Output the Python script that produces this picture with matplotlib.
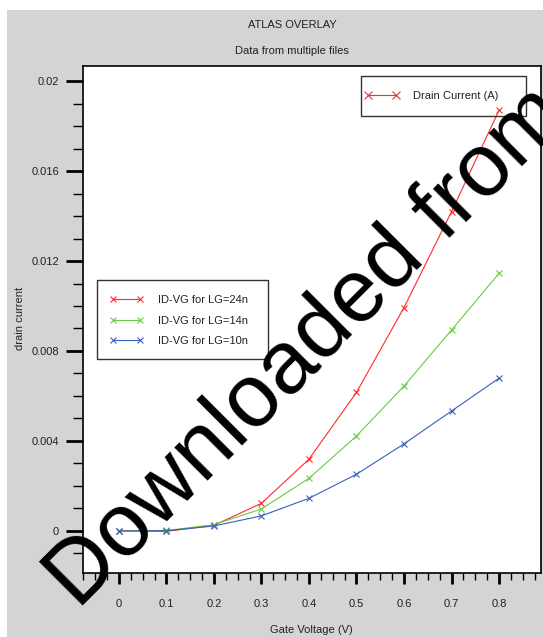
import numpy as np
import matplotlib
matplotlib.use('Agg')
import matplotlib.pyplot as plt
from matplotlib.lines import Line2D
from matplotlib.patches import Rectangle
from matplotlib.ticker import MultipleLocator

plt.rcParams['font.family'] = ['Liberation Sans', 'DejaVu Sans']

# gate voltage sweep and drain current for the three gate lengths
vg = [0.0, 0.1, 0.2, 0.3, 0.4, 0.5, 0.6, 0.7, 0.8]
id_lg24 = [0.0, -0.00002, 0.00025, 0.00123, 0.00319, 0.00616, 0.00993, 0.01419, 0.01870]
id_lg14 = [0.0, 0.00002, 0.00028, 0.00098, 0.00234, 0.00422, 0.00644, 0.00893, 0.01145]
id_lg10 = [0.0, 0.00001, 0.00022, 0.00067, 0.00145, 0.00252, 0.00387, 0.00533, 0.00679]
labels = ['ID-VG for LG=24n', 'ID-VG for LG=14n', 'ID-VG for LG=10n']
colors = ['#ff2a2a', '#66cc44', '#3a5fc0']

W, H = 543, 637
fig = plt.figure(figsize=(W / 100, H / 100), dpi=100, facecolor='white')

def fx(px):
    return px / W

def fy(py):
    return 1 - py / H

# grey panel behind the plot
fig.patches.append(Rectangle((fx(7), 0), 1 - fx(7), fy(10), transform=fig.transFigure,
                             facecolor='#d4d4d4', edgecolor='none', zorder=-10))

ax = fig.add_axes([fx(82.5), fy(573), fx(541) - fx(82.5), fy(66) - fy(573)])
ax.set_facecolor('white')

for y, lab, c in zip([id_lg24, id_lg14, id_lg10], labels, colors):
    ax.plot(vg, y, color=c, lw=0.8, marker='x', ms=5, mew=0.8, label=lab)

ax.set_xlim(-0.0768, 0.8884)
ax.set_ylim(-0.00187, 0.02067)

ax.xaxis.set_major_locator(MultipleLocator(0.1))
ax.xaxis.set_minor_locator(MultipleLocator(0.025))
ax.yaxis.set_major_locator(MultipleLocator(0.004))
ax.yaxis.set_minor_locator(MultipleLocator(0.001))
ax.set_xticks(np.arange(0, 0.81, 0.1))
ax.set_xticklabels(['0', '0.1', '0.2', '0.3', '0.4', '0.5', '0.6', '0.7', '0.8'])
ax.set_yticks([0, 0.004, 0.008, 0.012, 0.016, 0.02])
ax.set_yticklabels(['0', '0.004', '0.008', '0.012', '0.016', '0.02'])

ax.tick_params(axis='both', which='major', direction='out', width=2, color='black',
               labelsize=8, labelcolor='#222222')
ax.tick_params(axis='x', which='major', length=8, pad=11)
ax.tick_params(axis='x', which='minor', direction='out', length=5, width=1)
ax.tick_params(axis='y', which='major', length=12, pad=5)
ax.tick_params(axis='y', which='minor', direction='out', length=7, width=1)
for s in ax.spines.values():
    s.set_linewidth(1.2)

fig.text(fx(292), fy(25), 'ATLAS OVERLAY', ha='center', va='center', fontsize=8, color='#222222')
fig.text(fx(292), fy(51), 'Data from multiple files', ha='center', va='center', fontsize=8,
         color='#222222')
fig.text(fx(311), fy(630), 'Gate Voltage (V)', ha='center', va='center', fontsize=8,
         color='#222222')
fig.text(fx(20), fy(318), 'drain current', ha='center', va='center', rotation=90,
         fontsize=8, color='#222222')

# legend for the three curves, boxed by hand
leg1 = ax.legend(loc='center left', bbox_to_anchor=(fx(110), fy(320.5)),
                 bbox_transform=fig.transFigure, frameon=False, fontsize=8,
                 handlelength=3.0, handletextpad=1.35, labelspacing=0.97,
                 borderpad=0, borderaxespad=0, numpoints=2)
for t in leg1.get_texts():
    t.set_color('#222222')
ax.add_artist(leg1)
fig.patches.append(Rectangle((fx(97), fy(359)), fx(268) - fx(97), fy(280) - fy(359),
                             transform=fig.transFigure, facecolor='none',
                             edgecolor='#333333', lw=1.0, zorder=5))

# quantity legend in the upper right
h2 = Line2D([], [], color=colors[0], lw=0.8, marker='x', ms=6, mew=0.8)
leg2 = ax.legend([h2], ['Drain Current (A)'], loc='center left',
                 bbox_to_anchor=(fx(365), fy(96)), bbox_transform=fig.transFigure,
                 frameon=False, fontsize=8, handlelength=3.1, handletextpad=1.2,
                 borderpad=0, borderaxespad=0, numpoints=2)
for t in leg2.get_texts():
    t.set_color('#222222')
fig.patches.append(Rectangle((fx(361), fy(116)), fx(526) - fx(361), fy(76) - fy(116),
                             transform=fig.transFigure, facecolor='none',
                             edgecolor='#333333', lw=1.0, zorder=5))

# watermark across the whole figure
fig.text(fx(78), fy(610), 'Downloaded from', rotation=45, rotation_mode='anchor',
         ha='left', va='baseline', fontsize=64, color='black', zorder=20)

fig.savefig('out.png', dpi=100, facecolor=fig.get_facecolor())
